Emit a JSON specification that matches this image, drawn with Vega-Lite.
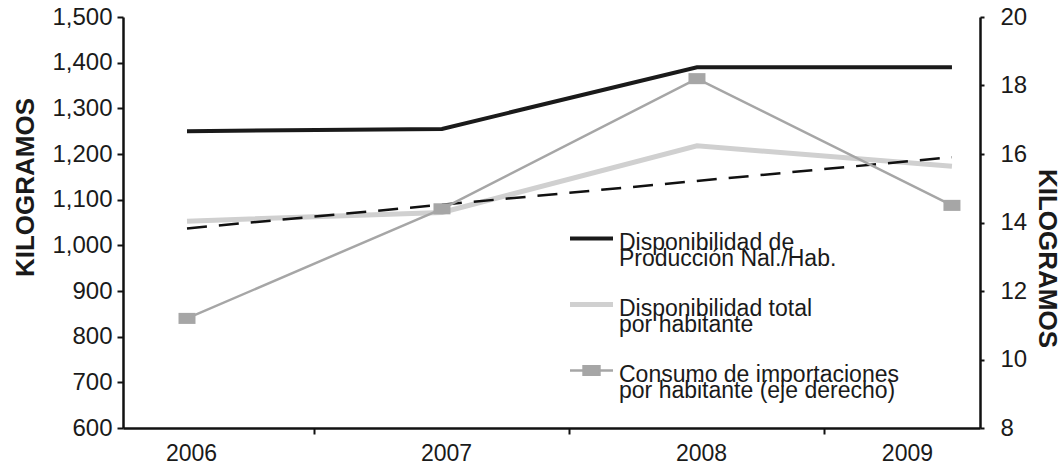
{
  "$schema": "https://vega.github.io/schema/vega-lite/v6.json",
  "width": 857,
  "height": 411,
  "autosize": "none",
  "padding": {"left": 123, "top": 17, "right": 82, "bottom": 37},
  "background": "white",
  "config": {
    "view": {"stroke": null},
    "font": "Liberation Sans",
    "axis": {
      "grid": false,
      "domainColor": "#111111",
      "domainWidth": 2.5,
      "tickColor": "#111111",
      "tickWidth": 2,
      "labelColor": "#1a1a1a",
      "titleColor": "#1a1a1a",
      "labelFont": "Liberation Sans",
      "titleFont": "Liberation Sans"
    }
  },
  "datasets": {
    "main": [
      {"anio": 2006, "serie": "Disponibilidad de Producción Nal./Hab.", "valor": 1250},
      {"anio": 2007, "serie": "Disponibilidad de Producción Nal./Hab.", "valor": 1255},
      {"anio": 2008, "serie": "Disponibilidad de Producción Nal./Hab.", "valor": 1390},
      {"anio": 2009, "serie": "Disponibilidad de Producción Nal./Hab.", "valor": 1390},
      {"anio": 2006, "serie": "Disponibilidad total por habitante", "valor": 1053},
      {"anio": 2007, "serie": "Disponibilidad total por habitante", "valor": 1072},
      {"anio": 2008, "serie": "Disponibilidad total por habitante", "valor": 1218},
      {"anio": 2009, "serie": "Disponibilidad total por habitante", "valor": 1173},
      {"anio": 2006, "serie": "Consumo de importaciones por habitante (eje derecho)", "valor": 11.2},
      {"anio": 2007, "serie": "Consumo de importaciones por habitante (eje derecho)", "valor": 14.4},
      {"anio": 2008, "serie": "Consumo de importaciones por habitante (eje derecho)", "valor": 18.2},
      {"anio": 2009, "serie": "Consumo de importaciones por habitante (eje derecho)", "valor": 14.5}
    ],
    "tendencia": [
      {"anio": 2006, "valor": 1037},
      {"anio": 2009, "valor": 1193}
    ]
  },
  "layer": [
    {
      "data": {"name": "main"},
      "layer": [
        {
          "transform": [{"filter": "datum.serie == 'Disponibilidad total por habitante'"}],
          "mark": {"type": "line", "strokeWidth": 5},
          "encoding": {
            "x": {
              "field": "anio", "type": "quantitative",
              "scale": {"domain": [2005.749, 2009.11], "nice": false, "zero": false},
              "axis": {
                "orient": "bottom", "values": [2006, 2007, 2008, 2009], "format": "d", "ticks": false, "tickSize": 0, "domain": false,
                "labelPadding": 14, "labelFontSize": 23, "labelFlush": false, "title": null,
                "labelOffset": {"condition": {"test": "datum.value == 2009", "value": -45}, "value": 4}
              }
            },
            "y": {
              "field": "valor", "type": "quantitative",
              "scale": {"domain": [600, 1500], "nice": false, "zero": false},
              "axis": {"orient": "left", "values": [600, 700, 800, 900, 1000, 1100, 1200, 1300, 1400, 1500], "format": ",.0f", "labelFontSize": 24, "tickSize": 6, "labelPadding": 5, "title": "KILOGRAMOS", "titleAngle": 270, "titleFontSize": 26, "titleFontWeight": "bold", "titleX": -90, "titleY": 170, "titleBaseline": "alphabetic", "titleAlign": "center"}
            },
            "color": {
              "field": "serie", "type": "nominal",
              "scale": {
                "domain": ["Disponibilidad de Producción Nal./Hab.", "Disponibilidad total por habitante", "Consumo de importaciones por habitante (eje derecho)"],
                "range": ["#1a1a1a", "#d0d0d0", "#a6a6a6"]
              },
              "legend": {
                "orient": "none",
                "legendX": 457,
                "legendY": 210,
                "title": null,
                "padding": 0,
                "symbolType": "stroke",
                "symbolSize": 1849,
                "symbolStrokeWidth": 4,
                "symbolOpacity": 1,
                "labelFontSize": 23,
                "labelLimit": 600,
                "labelOffset": 16,
                "labelBaseline": "alphabetic",
                "labelColor": "#1a1a1a",
                "rowPadding": 22,
                "labelExpr": "datum.label == 'Disponibilidad de Producción Nal./Hab.' ? ['Disponibilidad  de', 'Producción Nal./Hab.'] : datum.label == 'Disponibilidad total por habitante' ? ['Disponibilidad  total', 'por habitante'] : ['Consumo  de importaciones', 'por habitante (eje derecho)']",
                "encode": {
                  "symbols": {
                    "update": {
                      "shape": {"signal": "datum.value == 'Consumo de importaciones por habitante (eje derecho)' ? 'M-1,0H-0.37M0.37,0H1M-0.37,-0.2H0.37V0.2H-0.37Z' : 'stroke'"},
                      "fill": {"signal": "datum.value == 'Consumo de importaciones por habitante (eje derecho)' ? '#a6a6a6' : 'transparent'"},
                      "strokeWidth": {"signal": "datum.value == 'Disponibilidad de Producción Nal./Hab.' ? 4 : datum.value == 'Disponibilidad total por habitante' ? 5 : 2.5"},
                      "opacity": {"value": 1}
                    }
                  },
                  "labels": {
                    "update": {
                      "dy": {"value": 11},
                      "lineHeight": {"value": 16}
                    }
                  }
                }
              }
            }
          }
        },
        {
          "data": {"name": "tendencia"},
          "mark": {"type": "line", "strokeWidth": 2.5, "strokeDash": [20, 12], "color": "#111111"},
          "encoding": {
            "x": {"field": "anio", "type": "quantitative"},
            "y": {"field": "valor", "type": "quantitative"}
          }
        },
        {
          "transform": [{"filter": "datum.serie == 'Disponibilidad de Producción Nal./Hab.'"}],
          "mark": {"type": "line", "strokeWidth": 4},
          "encoding": {
            "x": {"field": "anio", "type": "quantitative"},
            "y": {"field": "valor", "type": "quantitative"},
            "color": {"field": "serie", "type": "nominal"}
          }
        }
      ]
    },
    {
      "data": {"name": "main"},
      "transform": [{"filter": "datum.serie == 'Consumo de importaciones por habitante (eje derecho)'"}],
      "encoding": {
        "x": {
          "field": "anio", "type": "quantitative",
          "axis": {"orient": "bottom", "values": [2006.5, 2007.5, 2008.5], "labels": false, "tickSize": 6, "domain": true, "title": null}
        },
        "y": {
          "field": "valor", "type": "quantitative",
          "scale": {"domain": [8, 20], "nice": false, "zero": false},
          "axis": {"orient": "right", "values": [8, 10, 12, 14, 16, 18, 20], "labelFontSize": 24, "tickSize": 4, "labelPadding": 16, "title": "KILOGRAMOS", "titleAngle": 90, "titleFontSize": 26, "titleFontWeight": "bold", "titleX": 58, "titleY": 241, "titleBaseline": "alphabetic", "titleAlign": "center"}
        },
        "color": {"field": "serie", "type": "nominal"}
      },
      "layer": [
        {"mark": {"type": "line", "strokeWidth": 2.5}},
        {"mark": {"type": "point", "shape": "M-1,-0.65H1V0.65H-1Z", "size": 289, "filled": true, "opacity": 1}}
      ]
    }
  ],
  "resolve": {"scale": {"y": "independent"}, "axis": {"y": "independent", "x": "independent"}}
}
